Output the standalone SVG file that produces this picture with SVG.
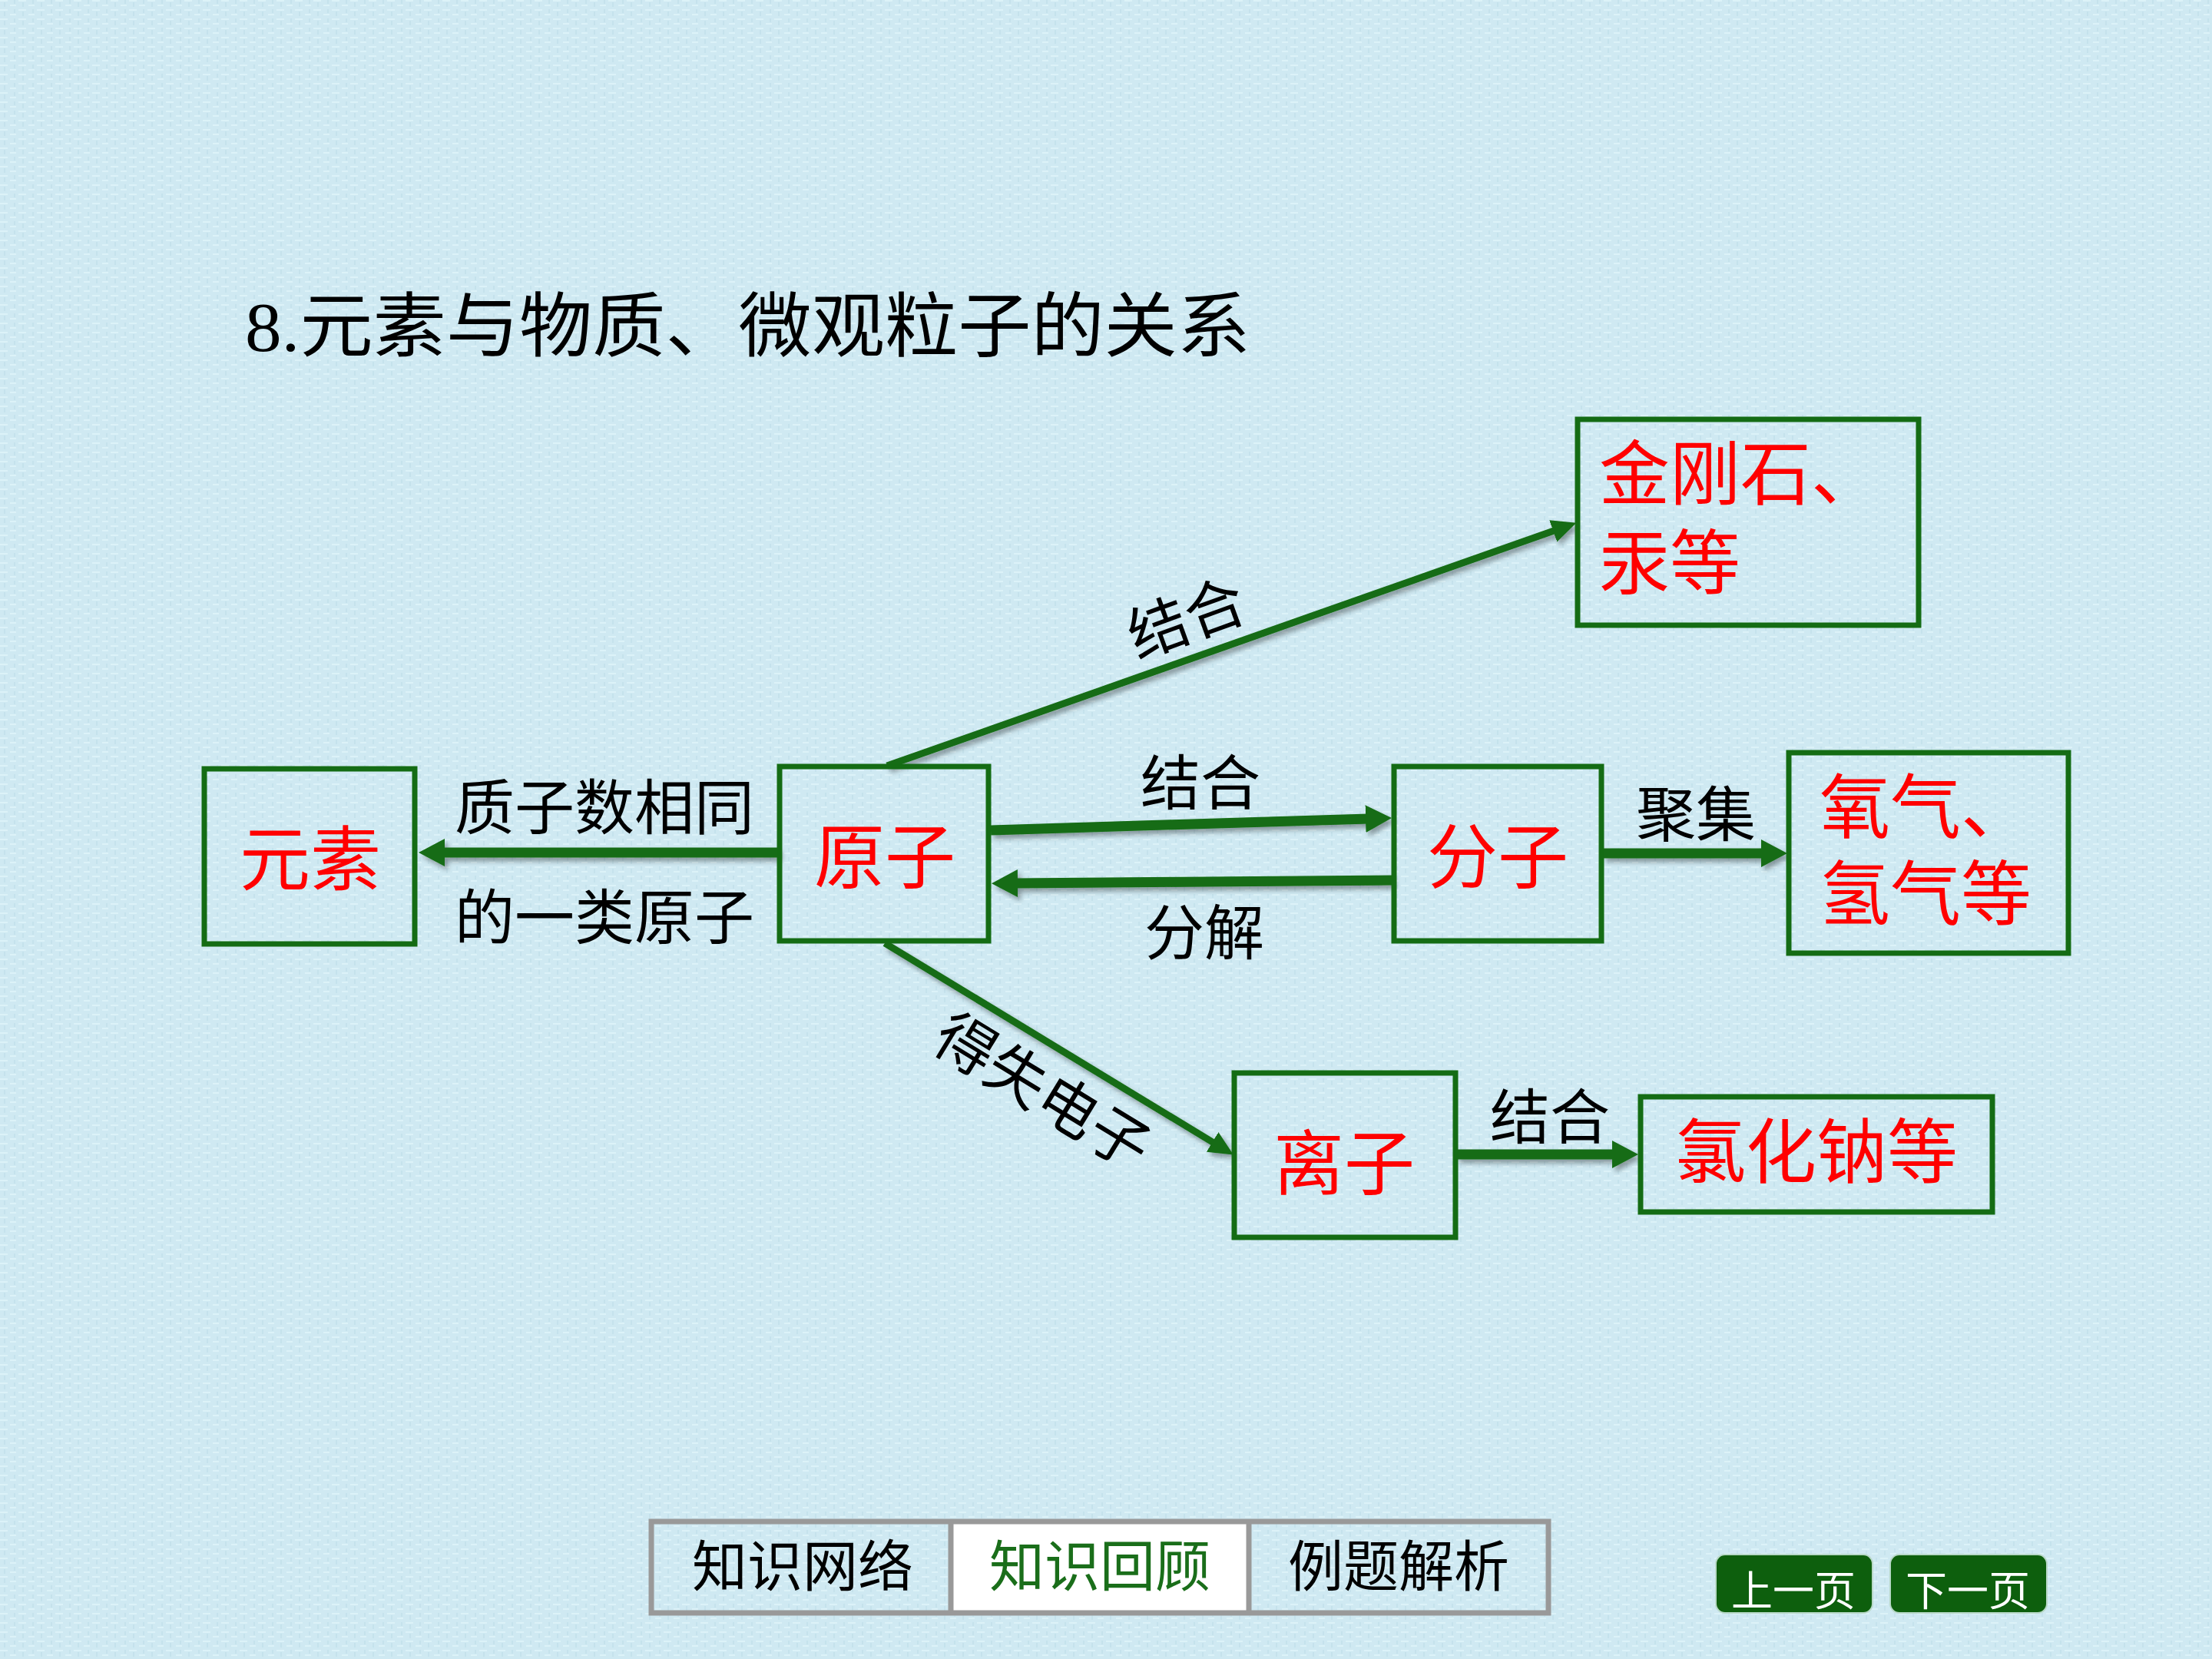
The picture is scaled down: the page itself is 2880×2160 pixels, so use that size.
<svg xmlns="http://www.w3.org/2000/svg" width="2880" height="2160" viewBox="0 0 2880 2160">
<defs>
<pattern id="tex" width="24" height="12" patternUnits="userSpaceOnUse">
<rect width="24" height="12" fill="#cfe9f2"/>
<rect x="0" y="0" width="10" height="2" fill="#dcf2f8"/>
<rect x="13" y="6" width="8" height="2" fill="#dcf2f8"/>
<rect x="5" y="3" width="2" height="6" fill="#c5e2ec"/>
<rect x="18" y="0" width="2" height="5" fill="#c5e2ec"/>
</pattern>
<marker id="headThick" markerUnits="userSpaceOnUse" markerWidth="40" markerHeight="40" viewBox="0 0 40 40" refX="4" refY="18" orient="auto">
<path d="M0,0 L34,18 L0,36 z" fill="#146c14"/>
</marker>
<marker id="headThin" markerUnits="userSpaceOnUse" markerWidth="36" markerHeight="36" viewBox="0 0 36 36" refX="4" refY="15" orient="auto">
<path d="M0,0 L32,15 L0,30 z" fill="#146c14"/>
</marker>
<filter id="shadow" x="-10%" y="-50%" width="120%" height="200%">
<feDropShadow dx="4" dy="5" stdDeviation="3" flood-color="#000" flood-opacity="0.35"/>
</filter>
</defs>
<style>
.box{fill:none;stroke:#146c14;stroke-width:7}
.arrow{fill:none;stroke:#146c14;stroke-width:13}
.thin{fill:none;stroke:#146c14;stroke-width:9}
.red{font-family:"Noto Sans CJK SC","Noto Sans",sans-serif;fill:#ff0000;font-size:92px}
.lbl{font-family:"Noto Sans CJK SC","Noto Sans",sans-serif;fill:#000;font-size:78px;text-anchor:middle}
.nav{font-family:"Noto Sans CJK SC","Noto Sans",sans-serif;font-size:72px;text-anchor:middle}
.btn{font-family:"Noto Sans CJK SC","Noto Sans",sans-serif;font-size:54px;fill:#fff;text-anchor:middle}
</style>
<rect width="2880" height="2160" fill="url(#tex)"/>

<g id="title">
<text x="319" y="457" font-family="Liberation Serif, Noto Sans CJK SC, serif" font-size="92" textLength="1309" lengthAdjust="spacingAndGlyphs">8.元素与物质、微观粒子的关系</text>
</g>

<g id="connectors" filter="url(#shadow)">
<line class="arrow" x1="1014" y1="1110" x2="575" y2="1110" marker-end="url(#headThick)"/>
<line class="arrow" x1="1290" y1="1081" x2="1782" y2="1066" marker-end="url(#headThick)"/>
<line class="arrow" x1="1813" y1="1146" x2="1321" y2="1150" marker-end="url(#headThick)"/>
<line class="arrow" x1="2087" y1="1111" x2="2297" y2="1111" marker-end="url(#headThick)"/>
<line class="thin" x1="1155" y1="997" x2="2026" y2="690" marker-end="url(#headThin)"/>
<line class="thin" x1="1152" y1="1228" x2="1582" y2="1489" marker-end="url(#headThin)"/>
<line class="arrow" x1="1896" y1="1503" x2="2103" y2="1503" marker-end="url(#headThick)"/>
</g>

<g id="labels">
<text class="lbl" x="787" y="1080">质子数相同</text>
<text class="lbl" x="787" y="1223">的一类原子</text>
<text class="lbl" x="1563" y="1048">结合</text>
<text class="lbl" x="1568" y="1243">分解</text>
<text class="lbl" x="2208" y="1089">聚集</text>
<text class="lbl" x="2018" y="1483">结合</text>
<text class="lbl" x="1545" y="833" transform="rotate(-20 1545 806)">结合</text>
<text class="lbl" x="1357" y="1449" transform="rotate(31.4 1357 1422)">得失电子</text>
</g>

<g id="node-yuansu">
<rect class="box" x="266" y="1001" width="274" height="228"/>
<text class="red" x="404" y="1152" text-anchor="middle">元素</text>
</g>
<g id="node-yuanzi">
<rect class="box" x="1015" y="998" width="272" height="227"/>
<text class="red" x="1152" y="1149" text-anchor="middle">原子</text>
</g>
<g id="node-fenzi">
<rect class="box" x="1815" y="998" width="270" height="227"/>
<text class="red" x="1950" y="1149" text-anchor="middle">分子</text>
</g>
<g id="node-jingangshi">
<rect class="box" x="2054" y="546" width="444" height="268"/>
<text class="red" font-size="94"><tspan x="2082" y="650">金刚石、</tspan><tspan x="2082" y="766">汞等</tspan></text>
</g>
<g id="node-yangqi">
<rect class="box" x="2329" y="980" width="364" height="261"/>
<text class="red" font-size="94"><tspan x="2369" y="1084">氧气、</tspan><tspan x="2369" y="1197">氢气等</tspan></text>
</g>
<g id="node-lizi">
<rect class="box" x="1607" y="1397" width="288" height="214"/>
<text class="red" x="1750" y="1548" text-anchor="middle">离子</text>
</g>
<g id="node-lvhuana">
<rect class="box" x="2136" y="1428" width="458" height="150"/>
<text class="red" x="2365" y="1533" text-anchor="middle" font-size="94">氯化钠等</text>
</g>

<g id="nav">
<rect x="1238" y="1981" width="388" height="119" fill="#ffffff"/>
<rect x="848" y="1981" width="1168" height="119" fill="none" stroke="#999999" stroke-width="7"/>
<line x1="1238" y1="1981" x2="1238" y2="2100" stroke="#999999" stroke-width="7"/>
<line x1="1626" y1="1981" x2="1626" y2="2100" stroke="#999999" stroke-width="7"/>
<text class="nav" x="1045" y="2065" fill="#000">知识网络</text>
<text class="nav" x="1432" y="2065" fill="#1a6e1a">知识回顾</text>
<text class="nav" x="1821" y="2065" fill="#000">例题解析</text>
</g>
<g id="btn-prev">
<rect x="2234" y="2024" width="204" height="76" rx="12" fill="#0d5f0d" stroke="#b8d8c8" stroke-width="2"/>
<text class="btn" x="2335" y="2091">上一页</text>
</g>
<g id="btn-next">
<rect x="2461" y="2024" width="204" height="76" rx="12" fill="#0d5f0d" stroke="#b8d8c8" stroke-width="2"/>
<text class="btn" x="2562" y="2091">下一页</text>
</g>
</svg>
